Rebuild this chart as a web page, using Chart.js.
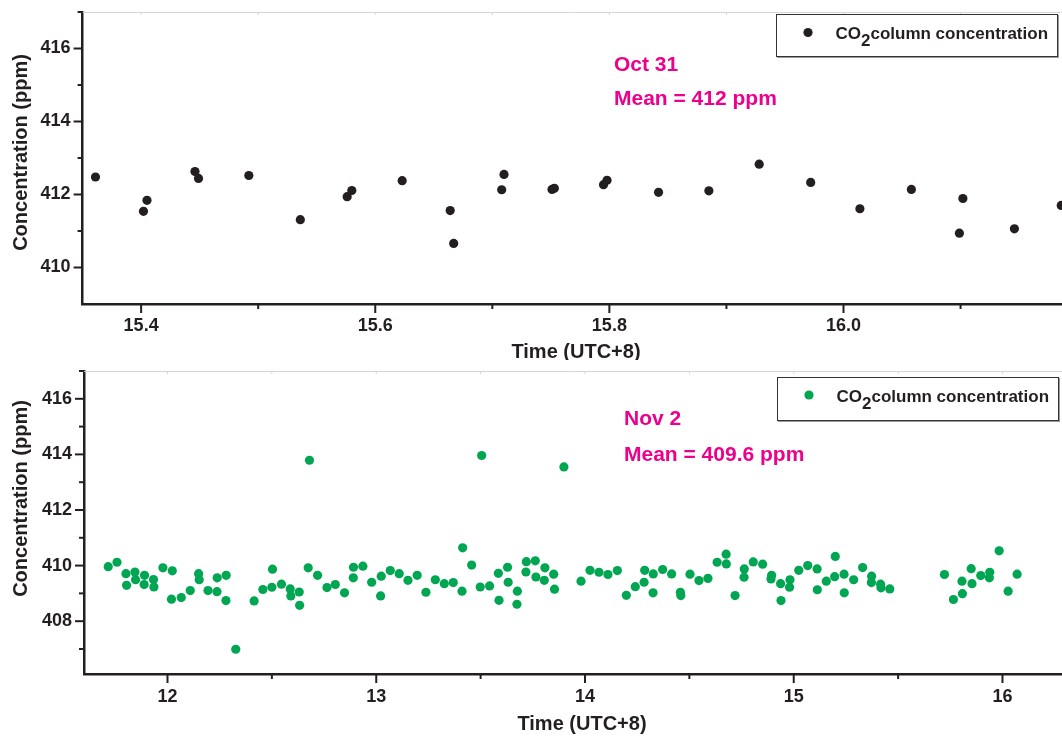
<!DOCTYPE html>
<html><head><meta charset="utf-8">
<script src="https://cdn.jsdelivr.net/npm/chart.js@4.4.0/dist/chart.umd.min.js"></script>
<style>
html,body{margin:0;padding:0;background:#fff;overflow:hidden;width:1062px;height:736px;position:relative}
#c1{position:absolute;left:0;top:0}
#c2{position:absolute;left:0;top:360px}
</style></head><body>
<canvas id="c1" width="1067" height="360"></canvas>
<canvas id="c2" width="1067" height="376"></canvas>
<script>
// ---------- DATA ----------
// Oct 31 (top panel)
const oct31Time = [15.361,15.402,15.405,15.446,15.449,15.492,15.536,15.576,15.580,15.623,15.664,15.667,15.708,15.710,15.751,15.753,15.795,15.798,15.842,15.885,15.928,15.972,16.014,16.058,16.099,16.102,16.146,16.186];
const oct31CO2  = [412.48,411.54,411.84,412.63,412.44,412.52,411.31,411.94,412.11,412.38,411.56,410.66,412.13,412.55,412.14,412.17,412.27,412.39,412.06,412.10,412.83,412.33,411.61,412.14,410.94,411.89,411.06,411.70];
// Nov 2 (bottom panel)
const nov2Time = [11.716,11.758,11.801,11.804,11.844,11.847,11.888,11.890,11.933,11.935,11.978,12.019,12.023,12.066,12.109,12.149,12.152,12.194,12.237,12.238,12.280,12.281,12.327,12.415,12.457,12.500,12.503,12.546,12.588,12.591,12.631,12.633,12.674,12.680,12.719,12.764,12.804,12.848,12.890,12.891,12.936,12.978,13.021,13.024,13.067,13.110,13.152,13.196,13.238,13.283,13.326,13.369,13.411,13.414,13.457,13.498,13.505,13.543,13.585,13.588,13.629,13.632,13.674,13.676,13.717,13.719,13.762,13.765,13.805,13.808,13.850,13.854,13.899,13.981,14.024,14.067,14.110,14.155,14.198,14.241,14.283,14.286,14.326,14.327,14.372,14.415,14.457,14.459,14.503,14.546,14.589,14.633,14.676,14.677,14.719,14.762,14.763,14.806,14.851,14.891,14.894,14.937,14.939,14.980,14.982,15.024,15.067,15.112,15.113,15.156,15.196,15.199,15.241,15.242,15.287,15.330,15.372,15.373,15.416,15.418,15.460,15.722,15.765,15.806,15.808,15.850,15.854,15.896,15.937,15.939,15.984,16.027,16.070];
const nov2CO2  = [409.96,410.12,409.71,409.29,409.77,409.49,409.32,409.65,409.50,409.23,409.92,408.79,409.81,408.85,409.10,409.71,409.49,409.10,409.06,409.56,408.74,409.65,406.99,408.73,409.14,409.22,409.87,409.33,409.16,408.91,409.05,408.57,409.92,413.79,409.65,409.21,409.32,409.02,409.56,409.94,409.98,409.40,408.91,409.62,409.82,409.71,409.47,409.65,409.04,409.49,409.35,409.39,409.08,410.64,410.02,409.23,413.96,409.27,409.72,408.75,409.94,409.40,408.61,409.08,409.77,410.14,410.17,409.59,409.47,409.92,409.69,409.15,413.55,409.44,409.83,409.76,409.68,409.82,408.93,409.24,409.40,409.83,409.02,409.70,409.86,409.70,409.04,408.92,409.69,409.46,409.54,410.12,410.41,410.06,408.92,409.58,409.88,410.13,410.05,409.52,409.65,409.35,408.74,409.22,409.49,409.83,410.00,409.88,409.13,409.44,409.60,410.33,409.69,409.02,409.49,409.93,409.39,409.62,409.33,409.20,409.16,409.68,408.78,409.44,408.99,409.89,409.35,409.64,409.56,409.76,410.53,409.08,409.69];

// tick values and labels
const topXTicks = [15.4,15.5,15.6,15.7,15.8,15.9,16.0,16.1];
const topXLabels = ['15.4','','15.6','','15.8','','16.0',''];
const topYTicks = [410,411,412,413,414,415,416,417];
const topYLabels = ['410','','412','','414','','416',''];
const botXTicks = [12,12.5,13,13.5,14,14.5,15,15.5,16];
const botXLabels = ['12','','13','','14','','15','','16'];
const botYTicks = [407,408,409,410,411,412,413,414,415,416,417];
const botYLabels = ['','408','','410','','412','','414','','416',''];

const seriesName = ['CO', '2', 'column concentration'];
const topNote = ['Oct 31', 'Mean = 412 ppm'];
const botNote = ['Nov 2', 'Mean = 409.6 ppm'];
const xTitle = 'Time (UTC+8)';
const yTitle = 'Concentration (ppm)';

// ---------- STYLE ----------
const FONT = "'Liberation Sans', Arial, sans-serif";
const INK = '#231f20';
const PINK = '#ec008c';
const GREEN = '#00a651';

function decor(o) {
  return {
    id: 'decor',
    afterDraw(chart) {
      const ctx = chart.ctx, a = chart.chartArea;
      const xs = chart.scales.x, ys = chart.scales.y;
      ctx.save();
      // faint top frame
      ctx.strokeStyle = '#d6d6d6'; ctx.lineWidth = 1;
      ctx.beginPath(); ctx.moveTo(a.left, a.top + 0.5); ctx.lineTo(a.right, a.top + 0.5); ctx.stroke();
      xs.ticks.forEach(t => {
        const px = xs.getPixelForValue(t.value);
        ctx.beginPath(); ctx.moveTo(px, a.top); ctx.lineTo(px, a.top + 3); ctx.stroke();
      });
      // tick marks
      ctx.strokeStyle = INK; ctx.lineWidth = 2;
      xs.ticks.forEach(t => {
        const px = xs.getPixelForValue(t.value);
        const len = t.label ? 9 : 5;
        ctx.beginPath(); ctx.moveTo(px, a.bottom); ctx.lineTo(px, a.bottom + len); ctx.stroke();
      });
      ys.ticks.forEach(t => {
        const py = ys.getPixelForValue(t.value);
        const len = t.label ? 9 : 5;
        ctx.beginPath(); ctx.moveTo(a.left - len, py); ctx.lineTo(a.left, py); ctx.stroke();
      });
      // axis titles
      ctx.fillStyle = INK;
      ctx.font = 'bold 20px ' + FONT;
      ctx.textAlign = 'center'; ctx.textBaseline = 'alphabetic';
      ctx.fillText(xTitle, o.xTitleX, o.xTitleY);
      ctx.save();
      ctx.translate(o.yTitleX, o.yTitleY);
      ctx.rotate(-Math.PI / 2);
      ctx.fillText(yTitle, 0, 0);
      ctx.restore();
      // annotation
      ctx.fillStyle = PINK;
      ctx.font = 'bold 21px ' + FONT;
      ctx.textAlign = 'left';
      ctx.fillText(o.note[0], o.noteX, o.noteY1);
      ctx.fillText(o.note[1], o.noteX, o.noteY2);
      // legend box
      const L = o.legend;
      ctx.strokeStyle = '#9a9a9a'; ctx.lineWidth = 1;
      ctx.strokeRect(L.x + 1.5, L.y + 1.5, L.w, L.h);
      ctx.fillStyle = '#fff';
      ctx.fillRect(L.x, L.y, L.w, L.h);
      ctx.strokeStyle = '#333'; ctx.lineWidth = 1;
      ctx.strokeRect(L.x + 0.5, L.y + 0.5, L.w, L.h);
      ctx.fillStyle = o.color;
      ctx.beginPath(); ctx.arc(L.dotX, L.dotY, 4.6, 0, Math.PI * 2); ctx.fill();
      ctx.fillStyle = INK;
      ctx.font = 'bold 17px ' + FONT;
      let tx = L.textX;
      ctx.fillText(seriesName[0], tx, L.base); tx += ctx.measureText(seriesName[0]).width;
      ctx.fillText(seriesName[1], tx, L.base + 6.5); tx += ctx.measureText(seriesName[1]).width;
      ctx.fillText(seriesName[2], tx, L.base);
      ctx.restore();
    }
  };
}

function makeChart(id, times, values, color, cfg) {
  const pts = times.map((t, i) => ({ x: t, y: values[i] }));
  return new Chart(document.getElementById(id), {
    type: 'scatter',
    data: { datasets: [{ data: pts, backgroundColor: color, borderWidth: 0, pointRadius: 4.6, pointHoverRadius: 4.6, clip: false }] },
    options: {
      responsive: false, animation: false, devicePixelRatio: 1,
      layout: { padding: { top: cfg.padTop, left: 0, right: 0, bottom: 0 } },
      plugins: { legend: { display: false }, tooltip: { enabled: false } },
      scales: {
        x: {
          type: 'linear', min: cfg.xMin, max: cfg.xMax,
          afterBuildTicks: s => { s.ticks = cfg.xTicks.map(v => ({ value: v })); },
          afterFit: s => { s.height = cfg.xAxisH; s.paddingLeft = 0; s.paddingRight = 0; },
          ticks: { autoSkip: false, maxRotation: 0, padding: cfg.xPad, color: INK,
                   font: { family: FONT, size: 18, weight: 'bold' },
                   callback: (v, i) => cfg.xLabels[i] },
          grid: { display: true, drawOnChartArea: false, drawTicks: false },
          border: { display: true, color: INK, width: 2.5 }
        },
        y: {
          type: 'linear', min: cfg.yMin, max: cfg.yMax,
          afterBuildTicks: s => { s.ticks = cfg.yTicks.map(v => ({ value: v })); },
          afterFit: s => { s.width = cfg.yAxisW; s.paddingTop = 0; s.paddingBottom = 0; },
          ticks: { autoSkip: false, padding: 12, color: INK,
                   font: { family: FONT, size: 18, weight: 'bold' },
                   callback: (v, i) => cfg.yLabels[i] },
          grid: { display: true, drawOnChartArea: false, drawTicks: false },
          border: { display: true, color: INK, width: 2.5 }
        }
      }
    },
    plugins: [decor(cfg.decor)]
  });
}

makeChart('c1', oct31Time, oct31CO2, INK, {
  padTop: 12, xMin: 15.35, xMax: 16.187, yMin: 409, yMax: 417,
  xTicks: topXTicks, xLabels: topXLabels, yTicks: topYTicks, yLabels: topYLabels,
  xAxisH: 56, yAxisW: 82.6, xPad: 11,
  decor: { color: INK, note: topNote, noteX: 614, noteY1: 70.5, noteY2: 105,
           xTitleX: 576, xTitleY: 358, yTitleX: 27, yTitleY: 152.5,
           legend: { x: 776, y: 14, w: 281, h: 42, dotX: 808, dotY: 32.5, textX: 835.5, base: 39.3 } }
});

makeChart('c2', nov2Time, nov2CO2, GREEN, {
  padTop: 11, xMin: 11.6, xMax: 16.287, yMin: 406.1, yMax: 417,
  xTicks: botXTicks, xLabels: botXLabels, yTicks: botYTicks, yLabels: botYLabels,
  xAxisH: 62, yAxisW: 84, xPad: 12,
  decor: { color: GREEN, note: botNote, noteX: 624, noteY1: 65, noteY2: 101,
           xTitleX: 582, xTitleY: 369.5, yTitleX: 27, yTitleY: 138.5,
           legend: { x: 777, y: 17, w: 281, h: 43, dotX: 809, dotY: 35, textX: 836.5, base: 42 } }
});
</script>
</body></html>
